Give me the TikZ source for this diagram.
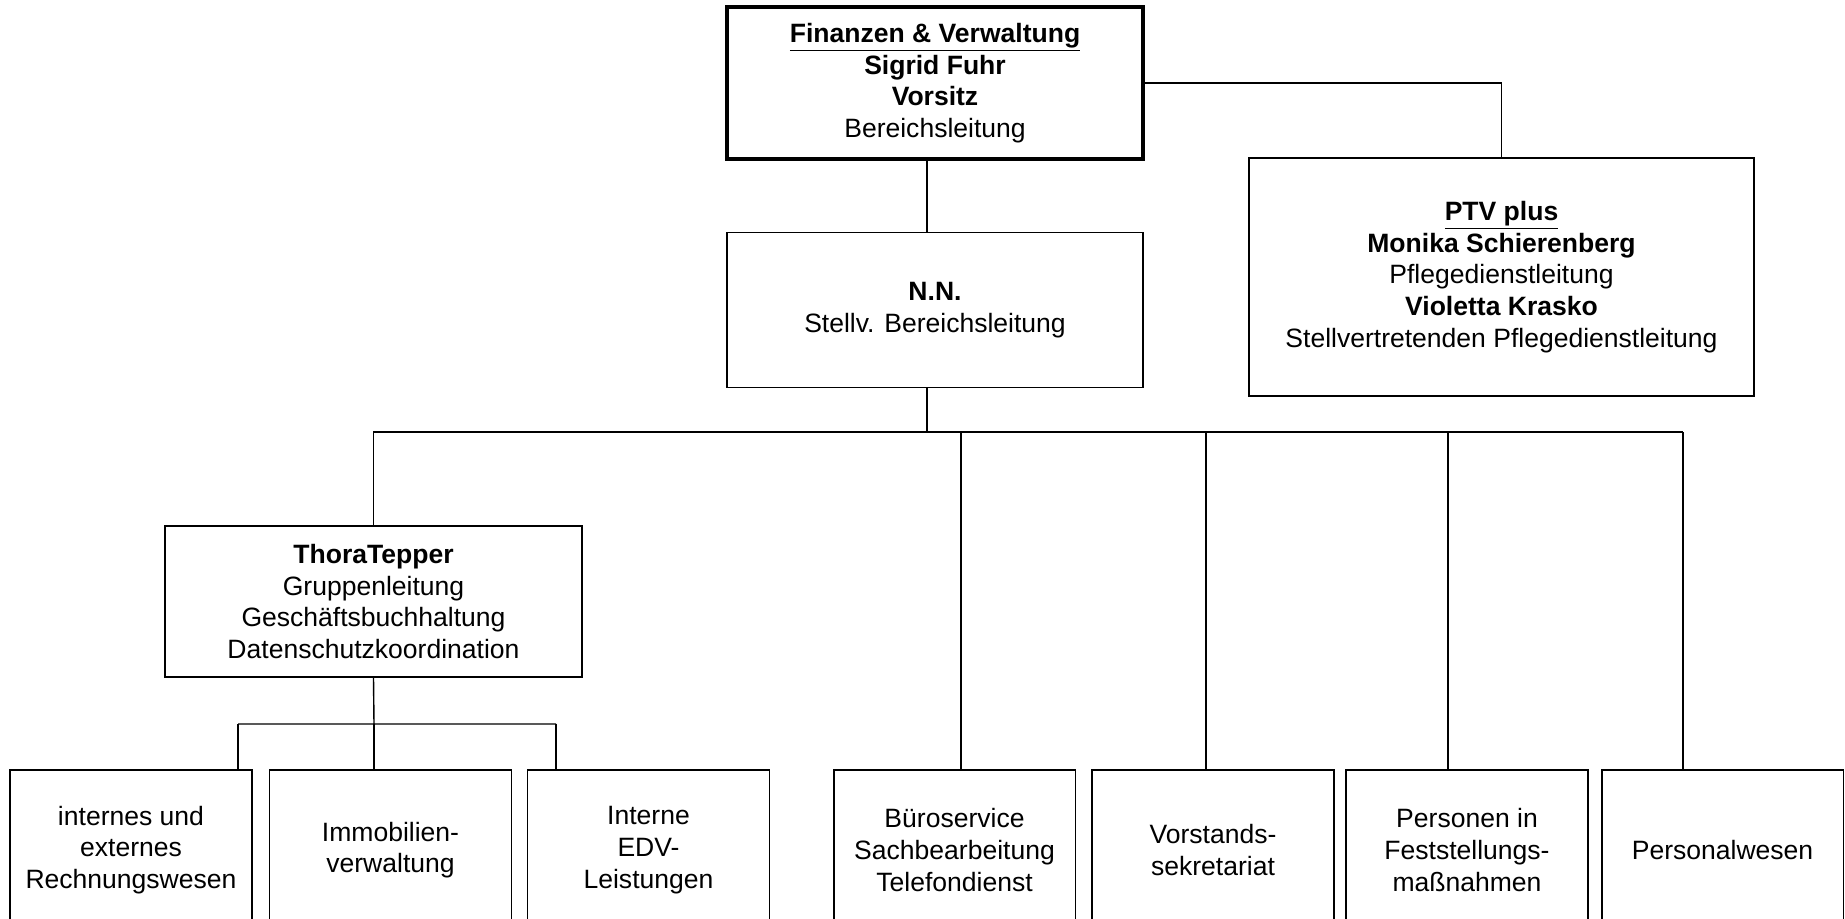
\documentclass[tikz,border=0pt]{standalone}
\usepackage{fontspec}
\setmainfont{Liberation Sans}
\begin{document}
\begin{tikzpicture}[x=0.02cm, y=-0.02cm, font=\fontsize{15.1}{18}\selectfont,
  box/.style={draw, line width=1.1pt, align=center, inner sep=0pt, minimum width=4.84cm, minimum height=3.2cm},
  link/.style={line width=0.8pt}]
 \clip (0,0) rectangle (1845,919);
 \node[box, line width=2.4pt, minimum width=8.32cm, minimum height=3.04cm] (fv) at (935,83) {\underline{\textbf{Finanzen \& Verwaltung}}\\\textbf{Sigrid Fuhr}\\\textbf{Vorsitz}\\Bereichsleitung};
 \node[box, minimum width=8.32cm, minimum height=3.1cm] (nn) at (935,310) {\textbf{N.N.}\\Stellv. Bereichsleitung};
 \node[box, minimum width=10.1cm, minimum height=4.76cm] (ptv) at (1501.5,277) {\underline{\textbf{PTV plus}}\\\textbf{Monika Schierenberg}\\Pflegedienstleitung\\\textbf{Violetta Krasko}\\Stellvertretenden Pflegedienstleitung};
 \node[box, minimum width=8.34cm, minimum height=3.02cm] (tt) at (373.5,601.5) {\textbf{ThoraTepper}\\Gruppenleitung\\Geschäftsbuchhaltung\\Datenschutzkoordination};
 \foreach \n/\x/\t in {rw/131/{internes und\\externes\\Rechnungswesen}, iv/390.5/{Immobilien-\\verwaltung}, edv/648.5/{Interne\\EDV-\\Leistungen},
   bs/954.5/{Büroservice\\Sachbearbeitung\\Telefondienst}, vs/1213/{Vorstands-\\sekretariat}, pf/1467/{Personen in\\Feststellungs-\\maßnahmen}, pw/1722.5/{Personalwesen}}
   \node[box] (\n) at (\x,850) {\t};
 \coordinate (bus) at (927,432);
 \coordinate (bus2) at (374,724);
 \draw[link] (fv.south -| bus) -- (nn.north -| bus);
 \draw[link] (fv.east) -| (ptv.north);
 \draw[link] (nn.south -| bus) -- (bus) (tt.north) |- (1683,432);
 \foreach \x/\n in {961/bs, 1206/vs, 1448/pf, 1683/pw} {
   \coordinate (d) at (\x,432);
   \draw[link] (d) -- (d |- \n.north);
 }
 \draw[link] (tt.south) -- (bus2) (238,724) -- (556,724);
 \foreach \x/\n in {238/rw, 374/iv, 556/edv} {
   \coordinate (d) at (\x,724);
   \draw[link] (d) -- (d |- \n.north);
 }
\end{tikzpicture}
\end{document}
